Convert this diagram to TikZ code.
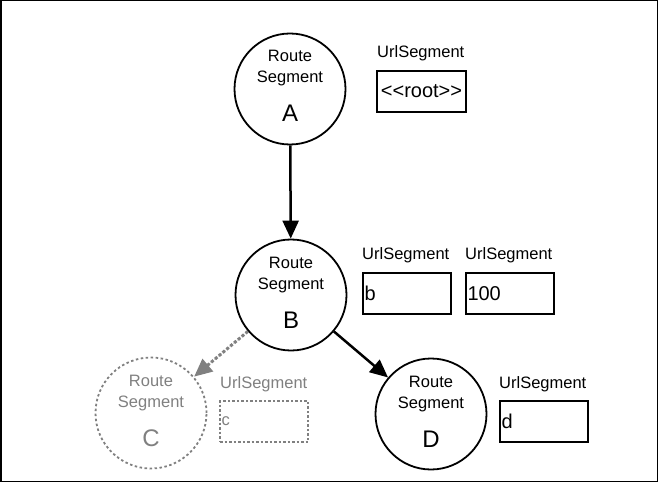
\documentclass[tikz,border=0pt]{standalone}
\usepackage{fontspec}
\setmainfont{Liberation Sans}
\usetikzlibrary{arrows.meta}
\definecolor{fade}{HTML}{808080}
\begin{document}
\begin{tikzpicture}[x=1bp,y=-1bp,
 seg/.style={circle,draw,line width=1.8bp,minimum size=111bp,inner sep=0pt},
 ghost/.style={seg,draw=fade,dash pattern=on 2.5bp off 2.5bp},
 txt/.style={anchor=base,inner sep=0pt,font=\fontsize{16.5bp}{19bp}\selectfont},
 big/.style={anchor=base,inner sep=0pt,font=\fontsize{24bp}{28bp}\selectfont},
 lbl/.style={anchor=base west,inner sep=0pt,font=\fontsize{16.5bp}{19bp}\selectfont},
 ubox/.style={draw,line width=2bp,anchor=north west,minimum height=41bp,inner sep=1.5bp,text width=85bp,font=\fontsize{20bp}{24bp}\selectfont},
 conn/.style={line width=2.5bp,-{Triangle[length=18bp,width=16bp]}},
 ghostconn/.style={conn,draw=fade,fill=fade,line width=3bp,dash pattern=on 3bp off 2bp}
]
\useasboundingbox (0,0) rectangle (658,482);
\draw[line width=1.5bp] (0.75,0.75) rectangle (657.25,481.25);

% Circles
\node[seg] (A) at (290,89) {};
\node[seg] (B) at (291,295) {};
\node[ghost] (C) at (151,413) {};
\node[seg] (D) at (431,414) {};

% Texts in circles
\node[txt] (Ar) at ([yshift=27bp]A.center) {Route};
\node[txt] (As) at ([yshift=6bp]A.center) {Segment};
\node[big] (Al) at ([yshift=-33bp]A.center) {A};
\node[txt] (Br) at ([yshift=27bp]B.center) {Route};
\node[txt] (Bs) at ([yshift=6bp]B.center) {Segment};
\node[big] (Bl) at ([yshift=-33bp]B.center) {B};
\node[txt,text=fade] (Cr) at ([yshift=27bp]C.center) {Route};
\node[txt,text=fade] (Cs) at ([yshift=6bp]C.center) {Segment};
\node[big,text=fade] (Cl) at ([yshift=-33bp]C.center) {C};
\node[txt] (Dr) at ([yshift=27bp]D.center) {Route};
\node[txt] (Ds) at ([yshift=6bp]D.center) {Segment};
\node[big] (Dl) at ([yshift=-33bp]D.center) {D};

% Url segments
\node[lbl] (Lroot) at (377,58) {UrlSegment};
\node[ubox,align=center,text width=86bp] (Uroot) at (376,70) {<\kern0pt<root>\kern0pt>};
\node[lbl] (Lb) at (362,260) {UrlSegment};
\node[ubox,align=left] (Ub) at (362,272) {b};
\node[lbl] (L100) at (465,260) {UrlSegment};
\node[ubox,align=left] (U100) at (465,272) {100};
\node[lbl] (Ld) at (499,388) {UrlSegment};
\node[ubox,align=left] (Ud) at (499,400) {d};
\node[lbl,text=fade] (Lc) at (220,388) {UrlSegment};
\node[ubox,align=left,draw=fade,text=fade,dash pattern=on 2.5bp off 2bp,font=\fontsize{16.5bp}{19bp}\selectfont] (Uc) at (219,400) {c};

% Connectors
\draw[conn] (A) -- (B);
\draw[conn] (B) -- (D);
\draw[ghostconn] (B) -- (C);
\end{tikzpicture}
\end{document}
